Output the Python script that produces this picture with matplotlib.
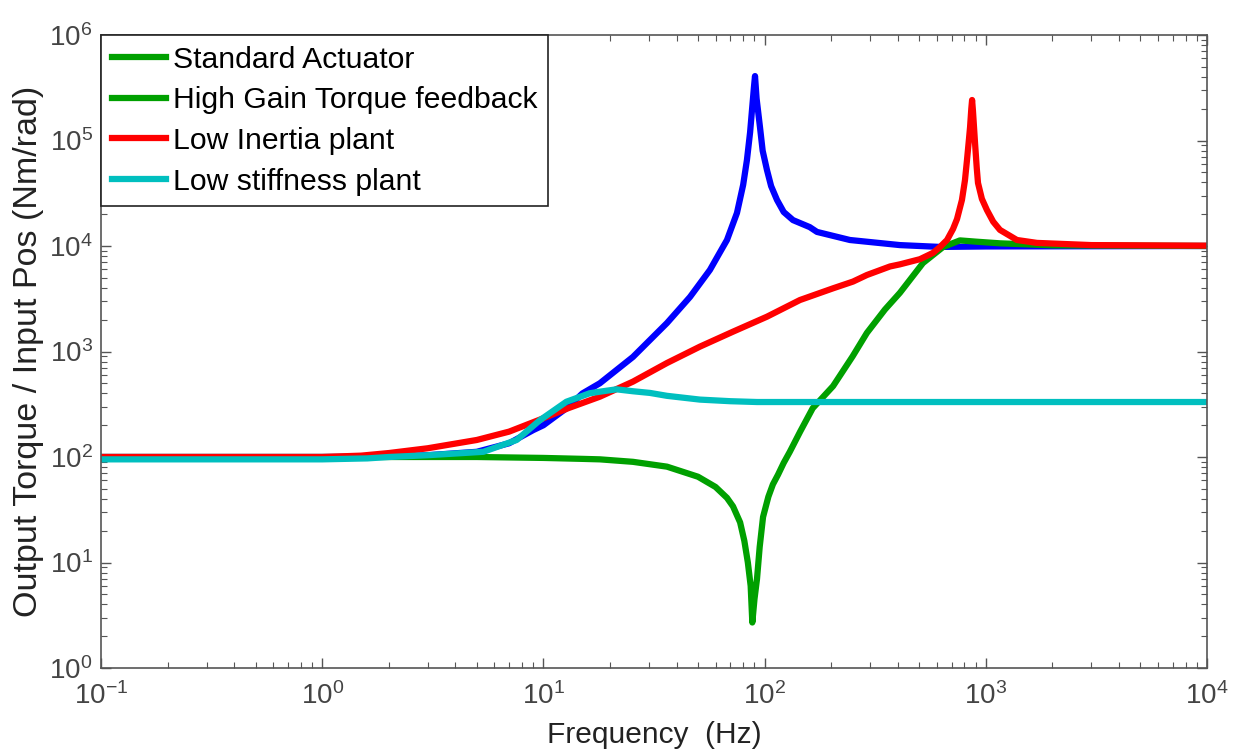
import matplotlib
matplotlib.use("Agg")
import matplotlib.pyplot as plt
from matplotlib.lines import Line2D
from matplotlib.ticker import LogLocator, NullFormatter

# ---------------- data ----------------
freq_std = [0.1, 1, 2, 3, 5, 7, 9, 10, 13, 15, 18, 25.4, 36.2, 46, 56.6, 62, 67.6,
            75, 80, 83.2, 86, 87.7, 89.5, 90.5, 92, 95.3, 98, 102.5, 107, 113.8, 122,
            134.4, 160, 172.5, 243, 409, 621, 1000, 10000]
mag_std = [100, 100, 101, 104, 112, 135, 180, 200, 300, 400, 500, 888, 1862, 3288,
           5930, 8300, 11400, 20560, 38000, 65300, 120000, 194500, 320000, 408000,
           250000, 134000, 80000, 52500, 37000, 27300, 21000, 17600, 15100, 13600,
           11400, 10200, 9800, 9900, 10000]

freq_hg = [0.1, 1, 5, 10, 15, 18, 25.4, 36.2, 50, 60, 67.6, 72, 77.5, 81, 84, 86.5,
           88, 90, 92.4, 95, 98.4, 104, 109, 115, 122, 130, 145, 165, 204, 250, 290,
           350, 409, 520, 641, 764, 900, 1159, 2000, 10000]
mag_hg = [100, 100, 100, 98, 96, 95, 90, 81, 65, 52, 41, 34, 24, 16, 10, 6, 2.7,
          4.5, 7, 14, 27, 42, 55, 68, 88, 112, 175, 290, 470, 900, 1500, 2500, 3600,
          6900, 9780, 11300, 11000, 10600, 10150, 10000]

freq_li = [0.1, 1, 1.5, 2, 3, 5, 7, 10, 13, 18, 25.4, 36.2, 51, 72, 102.5, 144.5,
           204, 251, 290, 369, 409, 504, 577, 621, 668, 711, 741, 780, 805, 822, 840,
           849, 860, 867, 875, 894, 910, 922, 960, 1012, 1080, 1159, 1383, 1703, 3000,
           10000]
mag_li = [100, 100, 103, 109, 121, 145, 174, 233, 291, 373, 518, 778, 1112, 1542,
          2138, 3076, 3972, 4600, 5309, 6400, 6700, 7500, 8600, 9800, 11400, 14500,
          18000, 27300, 42000, 65000, 105000, 134000, 200000, 242000, 190000, 94600,
          55000, 39600, 28000, 21900, 17000, 14200, 11400, 10700, 10200, 10070]

freq_ls = [0.1, 1, 1.6, 2, 3, 5.35, 7.57, 9.66, 12.7, 16.2, 18, 21.4, 25.4, 30.3,
           36.2, 51, 70, 92.4, 10000]
mag_ls = [95, 95, 97, 100, 104, 112, 145, 224, 334, 402, 416, 438, 420, 405, 380,
          350, 338, 332, 332]

legend_labels = ["Standard Actuator", "High Gain Torque feedback",
                 "Low Inertia plant", "Low stiffness plant"]
legend_colors = ["#00a000", "#00a000", "#ff0000", "#00bfbf"]
line_colors = ["#0000ff", "#00a000", "#ff0000", "#00bfbf"]

# ---------------- fonts ----------------
fam = "Liberation Sans"
plt.rcParams["mathtext.fontset"] = "custom"
plt.rcParams["mathtext.rm"] = fam
plt.rcParams["mathtext.it"] = fam
plt.rcParams["mathtext.bf"] = fam
plt.rcParams["font.family"] = [fam, "DejaVu Sans"]

fig = plt.figure(figsize=(12.37, 7.55), dpi=100)
ax = fig.add_axes([101 / 1237, 87 / 755, 1106 / 1237, 633 / 755])

lw = 4.5
series = [(freq_std, mag_std), (freq_hg, mag_hg), (freq_li, mag_li), (freq_ls, mag_ls)]
for (f, m), c in zip(series, line_colors):
    ax.plot(f, m, color=c, lw=lw, solid_capstyle="round", solid_joinstyle="round")

ax.set_xscale("log")
ax.set_yscale("log")
ax.set_xlim(0.1, 1e4)
ax.set_ylim(1, 1e6)

ax.xaxis.set_major_locator(LogLocator(base=10, numticks=10))
ax.yaxis.set_major_locator(LogLocator(base=10, numticks=10))
ax.xaxis.set_minor_locator(LogLocator(base=10, subs=range(2, 10), numticks=20))
ax.yaxis.set_minor_locator(LogLocator(base=10, subs=range(2, 10), numticks=20))
ax.xaxis.set_minor_formatter(NullFormatter())
ax.yaxis.set_minor_formatter(NullFormatter())

gray = "#555555"
for s in ax.spines.values():
    s.set_color(gray)
    s.set_linewidth(1.2)
ax.tick_params(which="both", direction="in", top=True, right=True, colors=gray,
               labelcolor="#444444")
ax.tick_params(which="major", length=7, width=1.0, labelsize=20)
ax.tick_params(which="minor", length=4, width=0.8)
ax.tick_params(axis="x", which="major", pad=10)
ax.tick_params(axis="y", which="major", pad=6)

ax.set_xlabel("Frequency  (Hz)", fontsize=21.5, color="#222222", labelpad=8)
ax.set_ylabel("Output Torque / Input Pos (Nm/rad)", fontsize=24.5, color="#222222",
              labelpad=4)

handles = [Line2D([0], [0], color=c, lw=lw) for c in legend_colors]
leg = ax.legend(handles, legend_labels, loc="upper left", borderaxespad=0,
                fancybox=False, edgecolor="#222222", framealpha=1,
                prop={"family": fam, "size": 21.7},
                handlelength=1.8, handletextpad=0.25, labelspacing=0.42,
                borderpad=0.35)
leg.get_frame().set_linewidth(1.2)

fig.savefig("out.png", dpi=100)
